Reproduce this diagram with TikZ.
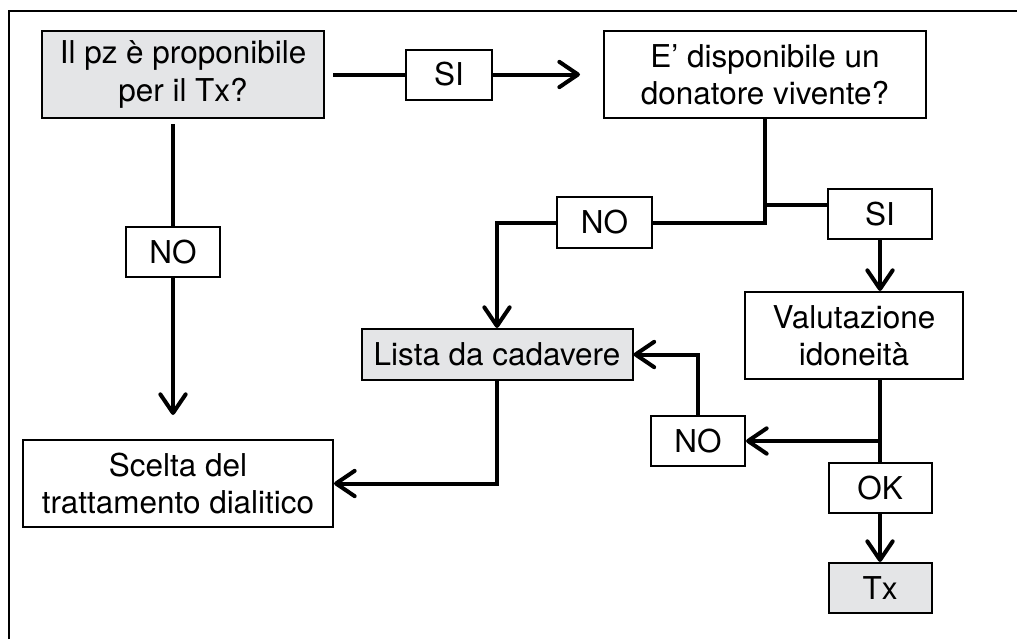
\documentclass[tikz,border=0pt]{standalone}
\usepackage{fontspec}
\setmainfont{TeX Gyre Heros}
\usetikzlibrary{arrows.meta}
\definecolor{boxgray}{HTML}{E4E5E7}
\begin{document}
\begin{tikzpicture}[x=0.75pt,y=-0.75pt,
  sz/.style 2 args={minimum width=#1*0.75pt,minimum height=#2*0.75pt},
  box/.style={draw,line width=1.5pt,rectangle,inner sep=0pt,align=center,
    font=\fontsize{23.6}{28}\selectfont},
  grayfill/.style={fill=boxgray},
  conn/.style={line width=3pt},
  arr/.style={conn,-{Straight Barb[length=14pt,width=19pt,line cap=round,line join=round]}},
  frame/.style={line width=1.6pt}]
\useasboundingbox (0,0) rectangle (1017,639);
\draw[frame] (9,639) -- (9,11) -- (1017,11);

\node[box,grayfill,sz={282}{87}] (A) at (183,74.5) {Il pz è proponibile\\per il Tx?};
\node[box,sz={86}{50}] (SI1) at (449,74.5) {SI};
\node[box,sz={322}{87}] (B) at (765,74.5) {E’ disponibile un\\donatore vivente?};
\node[box,sz={94}{50}] (NOA) at (173,252) {NO};
\node[box,sz={310}{87}] (S) at (178,483.5) {Scelta del\\trattamento dialitico};
\node[box,sz={95}{51}] (NOB) at (604.5,222.5) {NO};
\node[box,sz={104}{50}] (SI2) at (880,214) {SI};
\node[box,grayfill,sz={271}{51}] (L) at (497,354.5) {Lista da cadavere};
\node[box,sz={218}{87}] (V) at (854,335.5) {Valutazione\\idoneità};
\node[box,sz={94}{50}] (NOC) at (698,441) {NO};
\node[box,sz={103}{50}] (OK) at (880,488) {OK};
\node[box,grayfill,sz={103}{50}] (T) at (880,588) {Tx};

\coordinate (a1) at (333,74.5);
\coordinate (b1) at (580,74.5);
\coordinate (a2) at (173,124);
\coordinate (a3) at (173,415);
\coordinate (j1) at (765,205);
\coordinate (j2) at (880,441);

\draw[conn] (a1) -- (SI1.west);
\draw[arr] (SI1.east) -- (b1);
\draw[conn] (a2) -- (NOA.north);
\draw[arr] (NOA.south) -- (a3);
\draw[conn] (B.south) |- (NOB.east);
\draw[conn] (j1) -- (j1 -| SI2.west);
\draw[arr] (NOB.west) -| (L.north);
\draw[arr] (SI2.south) -- (SI2.south |- V.north);
\draw[conn] (OK.north |- V.south) -- (OK.north);
\draw[arr] (j2) -- (NOC.east);
\draw[arr] (NOC.north) |- (L.east);
\draw[arr] (OK.south) -- (T.north);
\draw[arr] (L.south) |- (S.east);
\end{tikzpicture}
\end{document}
